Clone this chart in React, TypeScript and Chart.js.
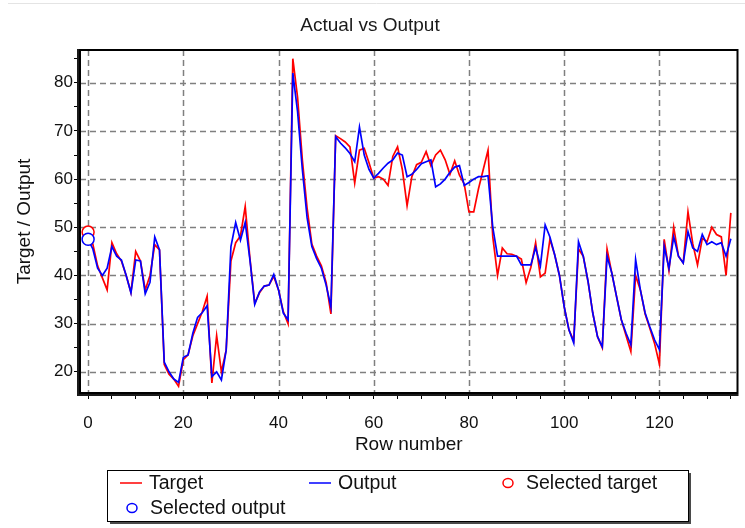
import React, { useEffect, useRef } from "react";
import { Chart, registerables } from "chart.js";

Chart.register(...registerables);

const chartTitle = "Actual vs Output";
const xAxisTitle = "Row number";
const yAxisTitle = "Target / Output";
const seriesNames = ["Target", "Output", "Selected target", "Selected output"];

const targetValues = [
  49, 46.5, 42, 39.5, 37, 46.8, 44.5, 43, 40, 36.5,
  45, 43, 37, 40, 46.4, 45.3, 21.5, 19.5, 18.5, 17,
  22.5, 23.5, 27.5, 30, 32.5, 35.7, 17.7, 27.5, 20, 24.5,
  43, 46.8, 48.2, 54.3, 43.5, 34.2, 36.4, 37.8, 38, 39.8,
  37, 32.5, 30, 85, 77, 64, 54, 46.5, 44, 42,
  38.5, 32, 69, 68.4, 67.7, 66.7, 59.2, 66, 66.4, 63.4,
  60.2, 60.5, 60, 58.7, 64.7, 66.7, 62, 54.5, 60.5, 63,
  63.5, 65.7, 62.8, 65, 66, 64, 61, 63.8, 60.8, 59,
  53.2, 53.2, 58, 62, 66, 48, 40, 45.7, 44.5, 44.4,
  44, 43.4, 38.5, 41.7, 46.8, 39.7, 40.5, 47.5, 44.3, 40,
  33.5, 28.7, 26.5, 45.5, 44, 38.8, 32.2, 27.3, 25, 45.5,
  40.5, 35.6, 30.8, 27.5, 24.2, 40, 37, 32, 29, 25.8,
  21.6, 47.5, 41, 50, 44, 42.6, 53.2, 46.6, 42.2, 47.7,
  47, 50, 48.5, 48, 40, 53
];

const outputValues = [
  47.5, 45.5, 41.5, 40, 41.5, 46, 44, 43.2, 40, 36.4,
  43.2, 43, 36.2, 38.6, 48, 45.3, 22, 20, 18.5, 17.8,
  23, 23.5, 28, 31.3, 32.3, 33.7, 19, 20, 18.3, 24.5,
  46, 51, 47.3, 51, 43.2, 34, 36.6, 37.8, 38, 40.2,
  37, 32.2, 30.8, 82, 74, 62, 52, 46, 43.5, 41.5,
  38, 33.5, 68.8, 67.5, 66.5, 65.3, 63.6, 70.8, 65, 62,
  60.2, 61.2, 62.3, 63.3, 64, 65.4, 65, 60.5, 61, 62,
  63.2, 63.6, 64, 58.4, 59, 60, 61.4, 62.5, 62.8, 58.7,
  59.3, 60, 60.5, 60.5, 60.7, 50, 44, 44, 44, 44,
  44, 42.2, 42.2, 42.2, 45.8, 42, 50.5, 48, 44.3, 40,
  33.5, 28.7, 26, 47, 44, 38.8, 32.2, 27.3, 25.2, 44,
  40.5, 35.6, 30.8, 28, 25.6, 43.3, 37, 32.2, 29.3, 26.6,
  24.6, 46, 41.5, 48, 44, 42.6, 49.1, 45.7, 45, 48.5,
  46.4, 47, 46.4, 46.8, 44, 47.6
];

const rowNumbers = targetValues.map((_, i) => i);

const selectedRows = [0];
const selectedTargetValues = [49];
const selectedOutputValues = [47.5];

const xTicks = [0, 5, 10, 15, 20, 25, 30, 35, 40, 45, 50, 55, 60, 65, 70, 75, 80, 85, 90, 95, 100, 105, 110, 115, 120, 125, 130, 135];
const xLabeledTicks = [0, 20, 40, 60, 80, 100, 120];
const yTicks = [20, 25, 30, 35, 40, 45, 50, 55, 60, 65, 70, 75, 80, 85];
const yLabeledTicks = [20, 30, 40, 50, 60, 70, 80];
const xRange = [-1.7, 136.4];
const yRange = [15.6, 86.8];

const FONT = "'Liberation Sans', Arial, sans-serif";

const framePlugin = {
  id: "framePlugin",
  beforeDraw(chart: any) {
    const ctx = chart.ctx;
    ctx.save();
    ctx.fillStyle = "#ffffff";
    ctx.fillRect(0, 0, chart.width, chart.height);
    ctx.strokeStyle = "#e4e4e4";
    ctx.lineWidth = 1;
    ctx.beginPath();
    ctx.moveTo(8, 3.5);
    ctx.lineTo(chart.width, 3.5);
    ctx.stroke();
    ctx.restore();
  },
  beforeDatasetsDraw(chart: any) {
    const ctx = chart.ctx;
    const { left, right, top, bottom } = chart.chartArea;
    const xs = chart.scales.x;
    const ys = chart.scales.y;
    ctx.save();
    ctx.strokeStyle = "#7f7f7f";
    ctx.lineWidth = 1.5;
    ctx.setLineDash([6, 4]);
    xLabeledTicks.forEach((v) => {
      const px = Math.round(xs.getPixelForValue(v)) + 0.5;
      ctx.beginPath();
      ctx.moveTo(px, top);
      ctx.lineTo(px, bottom);
      ctx.stroke();
    });
    yLabeledTicks.forEach((v) => {
      const py = Math.round(ys.getPixelForValue(v)) + 0.5;
      ctx.beginPath();
      ctx.moveTo(left, py);
      ctx.lineTo(right, py);
      ctx.stroke();
    });
    ctx.restore();
  },
  afterDatasetsDraw(chart: any) {
    const ctx = chart.ctx;
    const { left, right, top, bottom } = chart.chartArea;
    ctx.save();
    ctx.strokeStyle = "#000000";
    ctx.lineWidth = 2;
    ctx.strokeRect(left, top, right - left, bottom - top);
    ctx.fillStyle = "#1a1a1a";
    ctx.fillRect(left - 3, top - 1, 2, bottom - top + 4);
    ctx.fillRect(left - 3, bottom + 1, right - left + 4, 2);
    ctx.restore();
  },
  afterDraw(chart: any) {
    const ctx = chart.ctx;
    const box = { x: 107, y: 470, w: 581, h: 51 };
    const slots = [
      { x: 120, y: 483 },
      { x: 309, y: 483 },
      { x: 502, y: 483 },
      { x: 126, y: 508 },
    ];
    ctx.save();
    ctx.fillStyle = "#4a4a4a";
    ctx.fillRect(box.x + 3, box.y + 3, box.w, box.h);
    ctx.fillStyle = "#ffffff";
    ctx.fillRect(box.x, box.y, box.w, box.h);
    ctx.strokeStyle = "#000000";
    ctx.lineWidth = 1;
    ctx.strokeRect(box.x + 0.5, box.y + 0.5, box.w, box.h);
    ctx.font = `19.5px ${FONT}`;
    ctx.textBaseline = "middle";
    ctx.textAlign = "left";
    chart.data.datasets.forEach((ds: any, i: number) => {
      const s = slots[i];
      if (!s) return;
      const color = ds.borderColor;
      if (ds.showLine === false) {
        ctx.strokeStyle = color;
        ctx.lineWidth = 1.5;
        ctx.beginPath();
        ctx.ellipse(s.x + 6, s.y, 5, 4.5, 0, 0, Math.PI * 2);
        ctx.stroke();
        ctx.fillStyle = "#111";
        ctx.fillText(ds.label, s.x + 24, s.y + 1);
      } else {
        ctx.strokeStyle = color;
        ctx.lineWidth = 1.5;
        ctx.beginPath();
        ctx.moveTo(s.x, s.y);
        ctx.lineTo(s.x + 22, s.y);
        ctx.stroke();
        ctx.fillStyle = "#111";
        ctx.fillText(ds.label, s.x + 29, s.y + 1);
      }
    });
    ctx.restore();
  },
};

export default function App() {
  const canvasRef = useRef<HTMLCanvasElement | null>(null);

  useEffect(() => {
    document.body.style.margin = "0";
    document.body.style.background = "#ffffff";
    const canvas = canvasRef.current;
    if (!canvas) return;

    const chart = new Chart(canvas, {
      type: "line",
      data: {
        datasets: [
          {
            label: seriesNames[0],
            data: rowNumbers.map((r, i) => ({ x: r, y: targetValues[i] })),
            borderColor: "#ff0000",
            backgroundColor: "#ff0000",
            borderWidth: 1.7,
            pointRadius: 0,
            tension: 0,
            order: 3,
          },
          {
            label: seriesNames[1],
            data: rowNumbers.map((r, i) => ({ x: r, y: outputValues[i] })),
            borderColor: "#0000ff",
            backgroundColor: "#0000ff",
            borderWidth: 1.7,
            pointRadius: 0,
            tension: 0,
            order: 2,
          },
          {
            label: seriesNames[2],
            data: selectedRows.map((r, i) => ({ x: r, y: selectedTargetValues[i] })),
            borderColor: "#ff0000",
            backgroundColor: "#ffffff",
            showLine: false,
            pointRadius: 6,
            pointBorderWidth: 1.5,
            order: 1,
          },
          {
            label: seriesNames[3],
            data: selectedRows.map((r, i) => ({ x: r, y: selectedOutputValues[i] })),
            borderColor: "#0000ff",
            backgroundColor: "#ffffff",
            showLine: false,
            pointRadius: 6,
            pointBorderWidth: 1.5,
            order: 0,
          },
        ],
      },
      options: {
        animation: false,
        responsive: false,
        maintainAspectRatio: false,
        layout: { padding: { left: 0, right: 5, top: 0, bottom: 0 } },
        plugins: {
          legend: { display: false },
          tooltip: { enabled: false },
          title: {
            display: true,
            text: chartTitle,
            color: "#1a1a1a",
            font: { family: FONT, size: 19, weight: "normal" },
            padding: { top: 14, bottom: 13.2 },
          },
        },
        scales: {
          x: {
            type: "linear",
            min: xRange[0],
            max: xRange[1],
            afterBuildTicks: (scale: any) => {
              scale.ticks = xTicks.map((v) => ({ value: v }));
            },
            afterFit: (scale: any) => {
              scale.height = 135;
            },
            ticks: {
              autoSkip: false,
              maxRotation: 0,
              padding: 14,
              color: "#111",
              font: { family: FONT, size: 17 },
              callback: (v: any) => (xLabeledTicks.includes(Number(v)) ? String(v) : ""),
            },
            grid: {
              drawOnChartArea: false,
              drawTicks: true,
              tickLength: 6,
              tickColor: "#000",
              tickWidth: 1,
            },
            border: { display: false },
            title: {
              display: true,
              text: xAxisTitle,
              color: "#111",
              font: { family: FONT, size: 19 },
              padding: { top: 0, bottom: 71.6 },
            },
          },
          y: {
            type: "linear",
            min: yRange[0],
            max: yRange[1],
            afterBuildTicks: (scale: any) => {
              scale.ticks = yTicks.map((v) => ({ value: v }));
            },
            afterFit: (scale: any) => {
              scale.width = 80;
            },
            ticks: {
              autoSkip: false,
              padding: 1,
              color: "#111",
              font: { family: FONT, size: 17 },
              callback: (v: any) => (yLabeledTicks.includes(Number(v)) ? String(v) : ""),
            },
            grid: {
              drawOnChartArea: false,
              drawTicks: true,
              tickLength: 6,
              tickColor: "#000",
              tickWidth: 1,
            },
            border: { display: false },
            title: {
              display: true,
              text: yAxisTitle,
              color: "#111",
              font: { family: FONT, size: 19 },
              padding: { top: 13.6, bottom: 0 },
            },
          },
        },
      },
      plugins: [framePlugin],
    } as any);

    return () => {
      chart.destroy();
    };
  }, []);

  return (
    <div style={{ width: 745, height: 528, background: "#fff" }}>
      <canvas ref={canvasRef} width={745} height={528} style={{ display: "block" }} />
    </div>
  );
}
